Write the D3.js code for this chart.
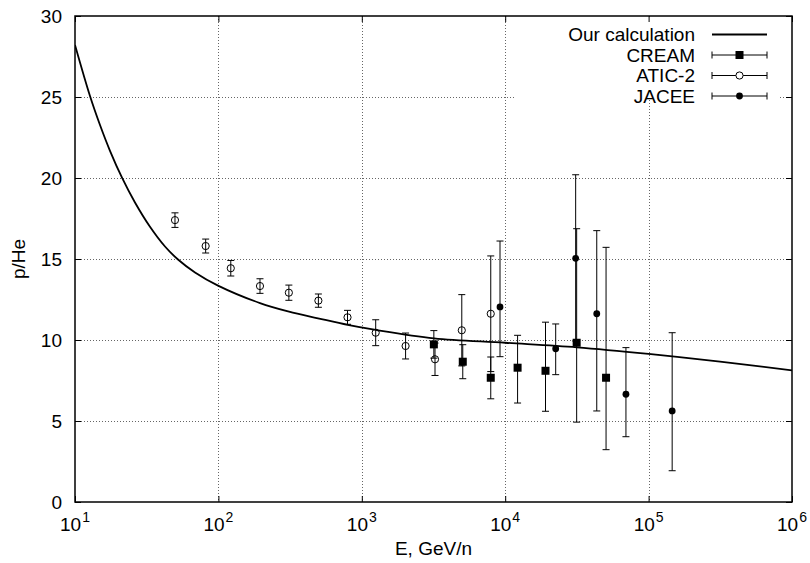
<!DOCTYPE html>
<html>
<head>
<meta charset="utf-8">
<script src="https://cdn.jsdelivr.net/npm/d3@7/dist/d3.min.js"></script>
<style>
  html, body { margin: 0; padding: 0; background: #fff; }
  svg { display: block; }
  text { font-family: "Liberation Sans", Arial, Helvetica, sans-serif; fill: #000; }
</style>
</head>
<body>
<svg id="chart" width="810" height="563"></svg>
<script>
// ---------------- data ----------------
const calcE   = [10, 12.72, 14.94, 17.54, 21.27, 26.2, 33.34, 42.43, 52.27, 68.69, 99.36, 195, 310.7, 495, 797.4, 1250, 3188, 10000, 31620, 100000, 314800, 1000000];
const calcVal = [28.21, 25.06, 23.27, 21.68, 20.02, 18.49, 16.99, 15.77, 14.97, 14.17, 13.36, 12.28, 11.75, 11.34, 10.93, 10.62, 10.10, 9.83, 9.55, 9.14, 8.66, 8.13];

const creamE     = [3180, 5060, 7930, 12200, 19100, 31500, 50500];
const creamVal   = [9.73, 8.66, 7.67, 8.29, 8.1, 9.83, 7.67];
const creamErrLo = [0.85, 1.05, 1.3, 2.18, 2.5, 4.9, 4.44];
const creamErrHi = [0.85, 1.05, 1.28, 2.0, 3.0, 7.04, 8.05];

const aticE     = [49.8, 81.5, 122, 195, 310, 498, 795, 1250, 2020, 3240, 4980, 7930];
const aticVal   = [17.4, 15.8, 14.43, 13.33, 12.92, 12.43, 11.4, 10.45, 9.63, 8.81, 10.6, 11.62];
const aticErr   = [0.45, 0.43, 0.48, 0.45, 0.47, 0.41, 0.43, 0.8, 0.8, 1.0, 2.2, 3.57];

const jaceeE     = [9200, 22500, 31000, 43500, 69500, 146000];
const jaceeVal   = [12.04, 9.46, 15.04, 11.62, 6.65, 5.62];
const jaceeErrLo = [3.07, 1.6, 5.1, 6.0, 2.62, 3.69];
const jaceeErrHi = [4.07, 1.53, 5.16, 5.13, 2.88, 4.83];

const yTicks = [0, 5, 10, 15, 20, 25, 30];
const xTickExp = [1, 2, 3, 4, 5, 6];
const legendLabels = ["Our calculation", "CREAM", "ATIC-2", "JACEE"];
const xLabel = "E, GeV/n";
const yLabel = "p/He";

// ---------------- layout ----------------
const L = 75, R = 792, T = 16, B = 502;
const svg = d3.select("#chart");
const x = d3.scaleLog().domain([10, 1e6]).range([L, R]);
const y = d3.scaleLinear().domain([0, 30]).range([B, T]);

// grid
const grid = svg.append("g").attr("stroke", "#666").attr("stroke-width", 1).attr("stroke-dasharray", "1,2");
yTicks.filter(v => v > 0 && v < 30).forEach(v => {
  grid.append("line").attr("x1", L).attr("x2", R).attr("y1", Math.round(y(v)) + 0.5).attr("y2", Math.round(y(v)) + 0.5);
});
xTickExp.filter(e => e > 1 && e < 6).forEach(e => {
  const px = Math.round(x(Math.pow(10, e))) + 0.5;
  grid.append("line").attr("x1", px).attr("x2", px).attr("y1", T).attr("y2", B);
});

// legend background (opaque, hides grid)
svg.append("rect").attr("x", 515).attr("y", 18).attr("width", 263).attr("height", 82).attr("fill", "#fff");

// axes with inward ticks
const tickLen = 6;
const yAxisL = d3.axisLeft(y).tickValues(yTicks).tickSizeInner(-tickLen).tickSizeOuter(0).tickPadding(13);
const yAxisR = d3.axisRight(y).tickValues(yTicks).tickSizeInner(-tickLen).tickSizeOuter(0).tickFormat("");
const xVals = xTickExp.map(e => Math.pow(10, e));
const xAxisB = d3.axisBottom(x).tickValues(xVals).tickSizeInner(-tickLen).tickSizeOuter(0).tickFormat("");
const xAxisT = d3.axisTop(x).tickValues(xVals).tickSizeInner(-tickLen).tickSizeOuter(0).tickFormat("");

const gL = svg.append("g").attr("transform", `translate(${L},0)`).call(yAxisL);
svg.append("g").attr("transform", `translate(${R},0)`).call(yAxisR);
svg.append("g").attr("transform", `translate(0,${B})`).call(xAxisB);
svg.append("g").attr("transform", `translate(0,${T})`).call(xAxisT);
svg.selectAll(".domain").remove();
svg.selectAll(".tick line").attr("stroke", "#000").attr("stroke-width", 1);
gL.selectAll(".tick text").attr("font-size", 19).attr("font-family", "Liberation Sans, Arial, sans-serif");

// x tick labels with superscripts
xTickExp.forEach(e => {
  const t = svg.append("text").attr("x", x(Math.pow(10, e))).attr("y", 531)
    .attr("text-anchor", "middle").attr("font-size", 19);
  t.append("tspan").text("10");
  t.append("tspan").attr("font-size", 14).attr("dy", -9).attr("dx", 1).text(String(e));
});

// frame
svg.append("rect").attr("x", L).attr("y", T).attr("width", R - L).attr("height", B - T)
  .attr("fill", "none").attr("stroke", "#000").attr("stroke-width", 1.5);

// axis labels
svg.append("text").attr("x", (L + R) / 2).attr("y", 555).attr("text-anchor", "middle")
  .attr("font-size", 19).text(xLabel);
svg.append("text").attr("transform", `translate(25,${(T + B) / 2}) rotate(-90)`)
  .attr("text-anchor", "middle").attr("font-size", 19).text(yLabel);

// clip
svg.append("defs").append("clipPath").attr("id", "clip")
  .append("rect").attr("x", L).attr("y", T).attr("width", R - L).attr("height", B - T);
const plot = svg.append("g").attr("clip-path", "url(#clip)");

// curve
const calcData = calcE.map((e, i) => ({ e, v: calcVal[i] }));
const line = d3.line().x(d => x(d.e)).y(d => y(d.v)).curve(d3.curveCatmullRom.alpha(0.5));
plot.append("path").datum(calcData).attr("d", line).attr("fill", "none")
  .attr("stroke", "#000").attr("stroke-width", 1.8);

// error bars
const cap = 3.5;
function errBars(g, es, vs, lo, hi) {
  es.forEach((e, i) => {
    const px = x(e), y1 = y(vs[i] - lo[i]), y2 = y(vs[i] + hi[i]);
    g.append("line").attr("x1", px).attr("x2", px).attr("y1", y1).attr("y2", y2);
    g.append("line").attr("x1", px - cap).attr("x2", px + cap).attr("y1", y1).attr("y2", y1);
    g.append("line").attr("x1", px - cap).attr("x2", px + cap).attr("y1", y2).attr("y2", y2);
  });
}
const eb = plot.append("g").attr("stroke", "#000").attr("stroke-width", 1);
errBars(eb, creamE, creamVal, creamErrLo, creamErrHi);
errBars(eb, aticE, aticVal, aticErr, aticErr);
errBars(eb, jaceeE, jaceeVal, jaceeErrLo, jaceeErrHi);

// markers
const sq = 8;
plot.selectAll(".cream").data(creamE).enter().append("rect")
  .attr("x", (e) => x(e) - sq / 2).attr("y", (e, i) => y(creamVal[i]) - sq / 2)
  .attr("width", sq).attr("height", sq).attr("fill", "#000");
plot.selectAll(".atic").data(aticE).enter().append("circle")
  .attr("cx", e => x(e)).attr("cy", (e, i) => y(aticVal[i])).attr("r", 3.6)
  .attr("fill", "none").attr("stroke", "#000").attr("stroke-width", 1);
plot.selectAll(".jacee").data(jaceeE).enter().append("circle")
  .attr("cx", e => x(e)).attr("cy", (e, i) => y(jaceeVal[i])).attr("r", 3.4)
  .attr("fill", "#000");

// legend
const lg = svg.append("g");
const textX = 695, s1 = 712, s2 = 767, sm = (s1 + s2) / 2;
legendLabels.forEach((lab, i) => {
  const cy = 34.5 + i * 20.5;
  lg.append("text").attr("x", textX).attr("y", cy).attr("dy", "0.36em")
    .attr("text-anchor", "end").attr("font-size", 19).text(lab);
  if (i === 0) {
    lg.append("line").attr("x1", s1).attr("x2", s2).attr("y1", cy).attr("y2", cy)
      .attr("stroke", "#000").attr("stroke-width", 1.8);
  } else {
    lg.append("line").attr("x1", s1).attr("x2", s2).attr("y1", cy).attr("y2", cy).attr("stroke", "#000");
    lg.append("line").attr("x1", s1).attr("x2", s1).attr("y1", cy - 3.5).attr("y2", cy + 3.5).attr("stroke", "#000");
    lg.append("line").attr("x1", s2).attr("x2", s2).attr("y1", cy - 3.5).attr("y2", cy + 3.5).attr("stroke", "#000");
    if (i === 1) lg.append("rect").attr("x", sm - sq / 2).attr("y", cy - sq / 2).attr("width", sq).attr("height", sq).attr("fill", "#000");
    if (i === 2) lg.append("circle").attr("cx", sm).attr("cy", cy).attr("r", 3.6).attr("fill", "#fff").attr("stroke", "#000");
    if (i === 3) lg.append("circle").attr("cx", sm).attr("cy", cy).attr("r", 3.4).attr("fill", "#000");
  }
});
</script>
</body>
</html>
